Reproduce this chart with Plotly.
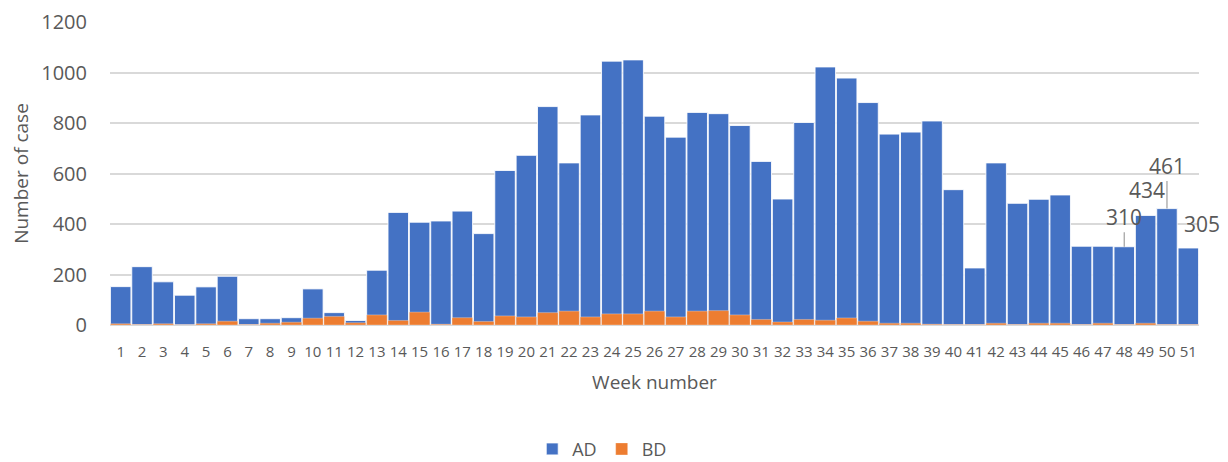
import plotly.graph_objects as go

weeks = [str(i) for i in range(1, 52)]
ad_values = [152, 231, 171, 118, 151, 193, 25, 25, 29, 143, 49, 18, 217, 446, 407, 412,
             451, 362, 612, 672, 865, 642, 832, 1045, 1050, 827, 744, 842, 837, 790, 648,
             499, 802, 1022, 978, 881, 756, 764, 808, 536, 226, 642, 482, 498, 515, 312,
             312, 310, 434, 461, 305]
bd_values = [5, 2, 5, 1, 5, 15, 2, 7, 11, 27, 34, 9, 40, 18, 51, 3, 29, 14, 36, 32, 49,
             55, 32, 44, 44, 55, 32, 55, 57, 40, 22, 12, 22, 19, 28, 15, 7, 7, 3, 2, 2,
             7, 2, 7, 7, 2, 7, 2, 7, 2, 2]
y_ticks = [0, 200, 400, 600, 800, 1000, 1200]

# labelled points: (week, arrow, ay, xshift, yshift)
labels = [("48", True, -30, 0, 0),
          ("49", False, 0, 1, 25),
          ("50", True, -43, 0, 0),
          ("51", False, 0, 14, 24)]

BLUE = "#4472C4"
ORANGE = "#ED7D31"
TXT = "#595959"
FONT = "Open Sans"

fig = go.Figure()
fig.add_trace(go.Bar(x=weeks, y=ad_values, name="AD", marker=dict(color=BLUE,
                     line=dict(color="rgba(255,255,255,0.85)", width=1))))
fig.add_trace(go.Bar(x=weeks, y=bd_values, name="BD", marker=dict(color=ORANGE,
                     line=dict(color="rgba(255,255,255,0.6)", width=0.5))))

for wk, arrow, ay, xs, ys in labels:
    idx = weeks.index(wk)
    val = ad_values[idx]
    if arrow:
        fig.add_annotation(x=idx, y=val, text=str(val), showarrow=True, arrowhead=0,
                           arrowwidth=1.3, arrowcolor="#A6A6A6", ax=0, ay=ay,
                           standoff=0, font=dict(size=21, color=TXT, family=FONT))
    else:
        fig.add_annotation(x=idx, y=val, text=str(val), showarrow=False,
                           xshift=xs, yshift=ys, yanchor="middle",
                           font=dict(size=21, color=TXT, family=FONT))

# page body has an 8px default margin, so the figure is sized/margined to compensate
fig.update_layout(
    width=1220, height=454,
    margin=dict(l=102, r=29, t=14, b=137, autoexpand=False),
    barmode="overlay", bargap=0.04,
    plot_bgcolor="white", paper_bgcolor="white",
    font=dict(family=FONT, color=TXT),
    showlegend=True,
    legend=dict(orientation="h", x=0.452, y=-0.41, yanchor="middle", xanchor="center",
                itemwidth=30,
                font=dict(size=18, color=TXT, family=FONT), traceorder="normal"),
    xaxis=dict(type="category", range=[-0.5, 50.5], showgrid=False, showline=False,
               automargin=False,
               tickmode="array", tickvals=weeks, ticktext=weeks,
               ticks="", tickfont=dict(size=15, color=TXT), ticklabelstandoff=16,
               title=dict(text="Week number", font=dict(size=19, color=TXT), standoff=15)),
    yaxis=dict(range=[0, 1200], tickvals=y_ticks, showgrid=True, gridcolor="#D9D9D9",
               automargin=False,
               gridwidth=1.5, zeroline=True, zerolinecolor="#D9D9D9", zerolinewidth=1.5,
               tickfont=dict(size=20, color=TXT), ticklabelstandoff=22,
               title=dict(text="Number of case", font=dict(size=19, color=TXT), standoff=14)),
)
fig.write_html("out.html")
